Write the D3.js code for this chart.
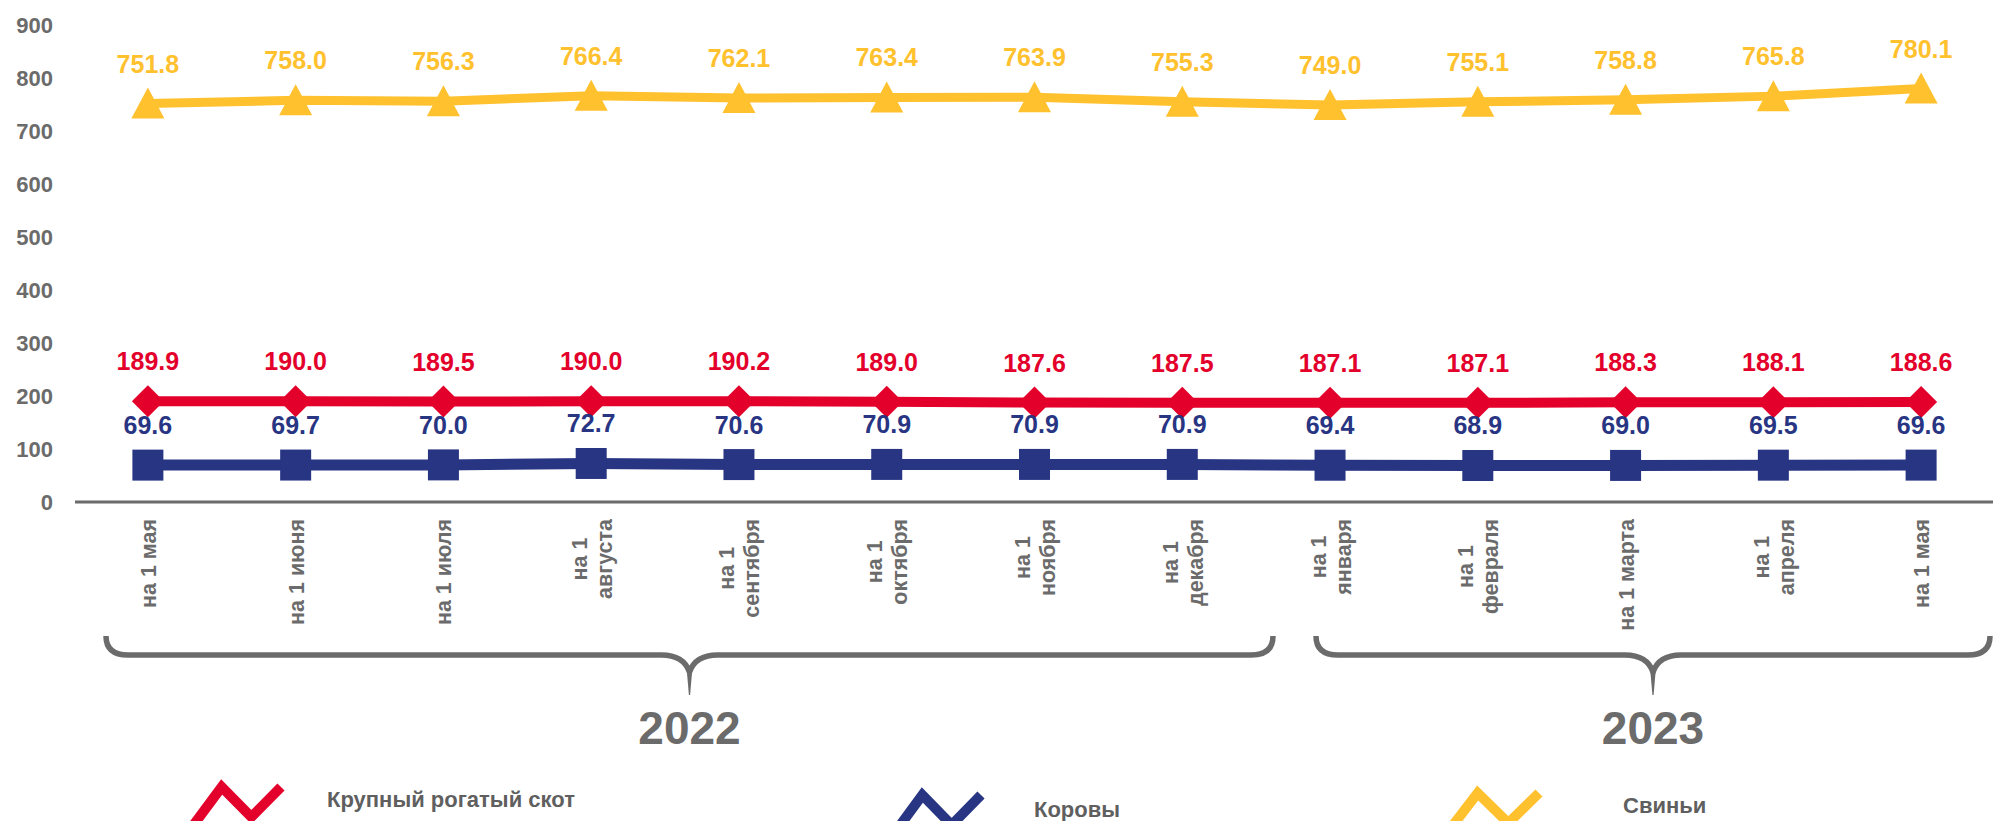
<!DOCTYPE html>
<html><head><meta charset="utf-8">
<script src="https://cdn.jsdelivr.net/npm/d3@7"></script>
<style>
html,body{margin:0;padding:0;background:#fff;}
svg{display:block;font-family:"Liberation Sans",Arial,sans-serif;font-weight:bold;}
</style></head>
<body>
<svg id="c" width="1993" height="821"></svg>
<script>
// ---- data ----
const categories = ["на 1 мая","на 1 июня","на 1 июля","на 1\nавгуста","на 1\nсентября","на 1\nоктября","на 1\nноября","на 1\nдекабря","на 1\nянваря","на 1\nфевраля","на 1 марта","на 1\nапреля","на 1 мая"];
const cattle = [189.9,190.0,189.5,190.0,190.2,189.0,187.6,187.5,187.1,187.1,188.3,188.1,188.6];
const cows   = [69.6,69.7,70.0,72.7,70.6,70.9,70.9,70.9,69.4,68.9,69.0,69.5,69.6];
const pigs   = [751.8,758.0,756.3,766.4,762.1,763.4,763.9,755.3,749.0,755.1,758.8,765.8,780.1];
const yTicks = [0,100,200,300,400,500,600,700,800,900];
const seriesNames = ["Крупный рогатый скот","Коровы","Свиньи"];
const years = ["2022","2023"];
const yearRanges = [[0,7],[8,12]];

// ---- styles / layout ----
const colors = {cattle:"#E3002B", cows:"#283583", pigs:"#FFC12E"};
const gray = "#6b6b6b";
const svg = d3.select("#c");
const x = d3.scalePoint().domain(d3.range(categories.length)).range([74,1995]).padding(0.5);
const y = d3.scaleLinear().domain([0,900]).range([502,25]);

// y axis labels
svg.append("g").selectAll("text").data(yTicks).join("text")
  .attr("x",53).attr("y",d=>y(d)).attr("dy","0.36em")
  .attr("text-anchor","end").attr("font-size",22).attr("fill",gray).text(d=>d);

// x axis line
svg.append("line").attr("x1",75).attr("x2",1993).attr("y1",y(0)).attr("y2",y(0))
  .attr("stroke",gray).attr("stroke-width",3);

// x category labels (rotated, wrapped)
const xl = svg.append("g").attr("font-size",21.5).attr("fill",gray);
categories.forEach((c,i)=>{
  const lines = c.split("\n");
  const g = xl.append("g");
  const ts = lines.map(l=>g.append("text").text(l).attr("text-anchor","middle").attr("dominant-baseline","central"));
  const maxLen = d3.max(ts,t=>t.node().getComputedTextLength());
  const cy = 519 + maxLen/2;
  ts.forEach((t,j)=>{
    const cx = x(i) + (j-(lines.length-1)/2)*25 + 1;
    t.attr("transform",`translate(${cx},${cy}) rotate(-90)`);
  });
});

// series
const lineGen = d3.line().x((d,i)=>x(i)).y(d=>y(d));
function drawSeries(vals,color,width,marker){
  svg.append("path").datum(vals).attr("d",lineGen).attr("fill","none")
    .attr("stroke",color).attr("stroke-width",width).attr("stroke-linejoin","round");
  const g = svg.append("g").attr("fill",color);
  vals.forEach((v,i)=>{
    const cx=x(i), cy=y(v);
    let p;
    if(marker==="square") p=`M${cx-15.5},${cy-15.5}h31v31h-31Z`;
    else if(marker==="diamond") p=`M${cx},${cy-16}L${cx+16},${cy}L${cx},${cy+16}L${cx-16},${cy}Z`;
    else p=`M${cx},${cy-16}L${cx+16.5},${cy+15}L${cx-16.5},${cy+15}Z`;
    g.append("path").attr("d",p);
  });
  svg.append("g").attr("font-size",25).attr("fill",color).attr("text-anchor","middle")
    .selectAll("text").data(vals).join("text")
    .attr("x",(d,i)=>x(i)).attr("y",d=>y(d)-31).text(d=>d.toFixed(1));
}
drawSeries(pigs,colors.pigs,9,"triangle");
drawSeries(cattle,colors.cattle,10,"diamond");
drawSeries(cows,colors.cows,11,"square");

// year braces
const braceExt = [[106,1273],[1316,1990]];
yearRanges.forEach((r,k)=>{
  const [x0,x1] = braceExt[k];
  const tip = (x0+x1)/2;
  const top=636, hy=655, rad=22;
  const p = `M${x0},${top} Q${x0},${hy} ${x0+rad},${hy} H${tip-28} Q${tip-6},${hy} ${tip},${hy+17} Q${tip+6},${hy} ${tip+28},${hy} H${x1-rad} Q${x1},${hy} ${x1},${top}`;
  svg.append("path").attr("d",p).attr("fill","none").attr("stroke",gray).attr("stroke-width",5.5);
  svg.append("path").attr("d",`M${tip-3},${hy+12} L${tip+3},${hy+12} L${tip+0.6},${hy+40} L${tip-0.6},${hy+40}Z`).attr("fill",gray);
  svg.append("text").attr("x",tip).attr("y",744).attr("text-anchor","middle")
    .attr("font-size",46).attr("fill",gray).text(years[k]);
});

// legend
const legendCols = [colors.cattle,colors.cows,colors.pigs];
const legendLayout = [{x:192,y:787,w:89,tx:327,ty:807},{x:893,y:795,w:88,tx:1034,ty:817},{x:1447,y:793,w:92,tx:1623,ty:813}];
legendLayout.forEach((L,k)=>{
  const h=40;
  svg.append("path").attr("d",`M${L.x},${L.y+h} L${L.x+L.w/3},${L.y} L${L.x+2*L.w/3},${L.y+h*0.75} L${L.x+L.w},${L.y}`)
    .attr("fill","none").attr("stroke",legendCols[k]).attr("stroke-width",10).attr("stroke-linejoin","miter");
  svg.append("text").attr("x",L.tx).attr("y",L.ty).attr("font-size",22).attr("fill","#5f5f5f").text(seriesNames[k]);
});
</script>
</body></html>
